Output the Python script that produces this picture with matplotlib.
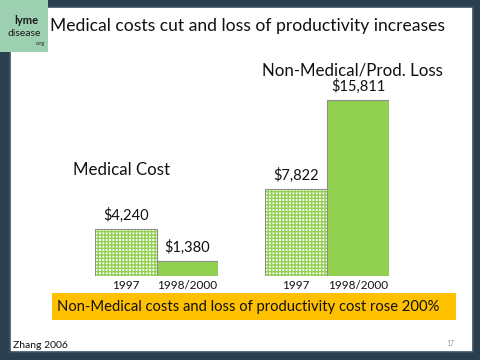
import matplotlib.pyplot as plt
from matplotlib.patches import Rectangle

plt.rcParams["font.family"] = ["Lato", "DejaVu Sans"]
plt.rcParams["hatch.linewidth"] = 1.0

# data
categories = ["1997", "1998/2000"]
medical_cost = [4240, 1380]
nonmedical_loss = [7822, 15811]
value_labels_medical = ["$4,240", "$1,380"]
value_labels_nonmedical = ["$7,822", "$15,811"]

GREEN = "#92D050"
EDGE = "#8c8c8c"
W, H = 480, 360

fig = plt.figure(figsize=(4.8, 3.6), dpi=100)
fig.patch.set_facecolor("#2c3f4e")

# slide background (pixel coords, y from top)
bg = fig.add_axes([0, 0, 1, 1])
bg.set_xlim(0, W)
bg.set_ylim(H, 0)
bg.axis("off")
bg.add_patch(Rectangle((10, 7), 463, 345, facecolor="white", edgecolor="#3a5468", lw=1.2))
bg.add_patch(Rectangle((0, 0), 48, 52, facecolor="#9dd0b0", edgecolor="none"))
bg.text(26, 20, "lyme", ha="center", va="center", fontsize=8, fontweight="bold", color="#1a1a1a")
bg.text(24, 33, "disease", ha="center", va="center", fontsize=7.5, color="#1a1a1a")
bg.text(40, 43, ".org", ha="center", va="center", fontsize=4, color="#1a1a1a")
bg.text(50, 26, "Medical costs cut and loss of productivity increases",
        ha="left", va="center", fontsize=12.6, color="#111111")
bg.text(352, 71, "Non-Medical/Prod. Loss", ha="center", va="center", fontsize=12.2, color="#111111")
bg.text(122, 170, "Medical Cost", ha="center", va="center", fontsize=12.2, color="#111111")
bg.add_patch(Rectangle((52, 293), 404, 27, facecolor="#FFC000", edgecolor="none"))
bg.text(57, 307, "Non-Medical costs and loss of productivity cost rose 200%",
        ha="left", va="center", fontsize=10.6, color="#111111")
bg.text(13, 346, "Zhang 2006", ha="left", va="center", fontsize=7.5, color="#111111")
bg.text(450, 343, "17", ha="center", va="center", fontsize=5, color="#999999")

YMAX = 16000
bottom = 1 - 276 / H
height = 178 / H


def draw_group(left_px, right_px, values, labels):
    ax = fig.add_axes([left_px / W, bottom, (right_px - left_px) / W, height])
    ax.set_xlim(-0.5, 1.5)
    ax.set_ylim(0, YMAX)
    ax.patch.set_alpha(0)
    # dotted-grid 1997 bar
    ax.bar(0, values[0], width=1, facecolor="white", edgecolor=GREEN, hatch="+++++", lw=0)
    ax.bar(0, values[0], width=1, fill=False, edgecolor=EDGE, lw=0.8)
    ax.bar(1, values[1], width=1, facecolor=GREEN, edgecolor=EDGE, lw=0.8)
    for i, (v, lab) in enumerate(zip(values, labels)):
        ax.text(i, v + YMAX * 0.035, lab, ha="center", va="bottom", fontsize=10.5, color="#111111")
    ax.set_xticks([0, 1])
    ax.set_xticklabels(categories, fontsize=8.5, color="#111111")
    ax.tick_params(axis="x", length=0, pad=3)
    ax.set_yticks([])
    for s in ax.spines.values():
        s.set_visible(False)
    return ax


draw_group(95, 218, medical_cost, value_labels_medical)
draw_group(265, 389, nonmedical_loss, value_labels_nonmedical)

fig.savefig("out.png", dpi=100, facecolor=fig.get_facecolor())
